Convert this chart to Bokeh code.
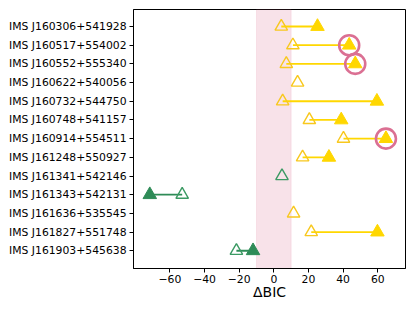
from bokeh.plotting import figure
from bokeh.models import Range1d, FixedTicker, BoxAnnotation, ColumnDataSource
from bokeh.embed import file_html
from bokeh.resources import INLINE

names = ["IMS J160306+541928", "IMS J160517+554002", "IMS J160552+555340",
         "IMS J160622+540056", "IMS J160732+544750", "IMS J160748+541157",
         "IMS J160914+554511", "IMS J161248+550927", "IMS J161341+542146",
         "IMS J161343+542131", "IMS J161636+535545", "IMS J161827+551748",
         "IMS J161903+545638"]
open_vals = [4.3, 11.0, 7.2, 13.7, 5.1, 20.5, 40.2, 16.6, 4.7, -52.9, 11.4, 21.6, -21.6]
filled_vals = [25.2, 43.5, 47.0, None, 59.5, 38.9, 64.7, 31.8, None, -71.6, None, 59.8, -12.0]
group = ["gold", "gold", "gold", "gold", "gold", "gold", "gold", "gold",
         "green", "green", "gold", "gold", "green"]
highlight = [False, True, True, False, False, False, True, False,
             False, False, False, False, False]
x_ticks = [-60, -40, -20, 0, 20, 40, 60]

FILL = {"gold": "#FFD700", "green": "#2E8B57"}
EDGE = {"gold": "#F8C81E", "green": "#3C9A64"}

ys = list(range(len(names)))

p = figure(width=407, height=303, output_backend="svg", toolbar_location=None,
           x_range=Range1d(-81, 76), y_range=Range1d(12.95, -0.91),
           min_border_left=133, min_border_right=2, min_border_top=9,
           min_border_bottom=35)
p.xgrid.visible = False
p.ygrid.visible = False
p.outline_line_color = "black"
p.outline_line_width = 1
p.background_fill_color = "white"

p.add_layout(BoxAnnotation(left=-10, right=10, fill_color="#DB7093",
                           fill_alpha=0.2, line_color="#DB7093",
                           line_alpha=0.15, level="underlay"))

seg = {"x0": [], "x1": [], "y": [], "c": []}
for i in ys:
    if filled_vals[i] is not None:
        seg["x0"].append(open_vals[i])
        seg["x1"].append(filled_vals[i])
        seg["y"].append(i)
        seg["c"].append(FILL[group[i]])
p.segment(x0="x0", y0="y", x1="x1", y1="y", line_color="c", line_width=1.8,
          source=ColumnDataSource(seg))

osrc = ColumnDataSource(dict(x=open_vals, y=ys, c=[EDGE[g] for g in group]))
p.scatter(x="x", y="y", source=osrc, marker="triangle", size=12.5,
          fill_alpha=0, line_color="c", line_width=1.4)

fx = [filled_vals[i] for i in ys if filled_vals[i] is not None]
fy = [i for i in ys if filled_vals[i] is not None]
fc = [FILL[group[i]] for i in ys if filled_vals[i] is not None]
p.scatter(x=fx, y=fy, marker="triangle", size=13.5, fill_color=fc, line_color=fc,
          line_width=1)

hx = [filled_vals[i] for i in ys if highlight[i]]
hy = [i for i in ys if highlight[i]]
p.scatter(x=hx, y=hy, marker="circle", size=20, fill_alpha=0,
          line_color="#DB7093", line_width=2.6)

p.yaxis.ticker = FixedTicker(ticks=ys)
p.yaxis.major_label_overrides = {i: n for i, n in enumerate(names)}
p.xaxis.ticker = FixedTicker(ticks=x_ticks)
p.xaxis.major_label_overrides = {t: ("\u2212" + str(-t) if t < 0 else str(t)) for t in x_ticks}
for ax in (p.xaxis[0], p.yaxis[0]):
    ax.minor_tick_line_color = None
    ax.major_tick_in = 0
    ax.major_tick_out = 4
    ax.major_label_text_font = "DejaVu Sans"
    ax.major_label_text_font_size = "10.8px"
    ax.major_label_text_color = "black"
    ax.axis_line_color = "black"
    ax.major_tick_line_color = "black"
    ax.major_label_standoff = 3
p.xaxis.major_label_standoff = 2
p.xaxis.axis_label = "\u0394BIC"
p.xaxis.axis_label_text_font = "DejaVu Sans"
p.xaxis.axis_label_text_font_size = "14px"
p.xaxis.axis_label_text_font_style = "normal"
p.xaxis.axis_label_text_color = "black"
p.xaxis.axis_label_standoff = -2

open("out.html", "w").write(file_html(p, INLINE))
